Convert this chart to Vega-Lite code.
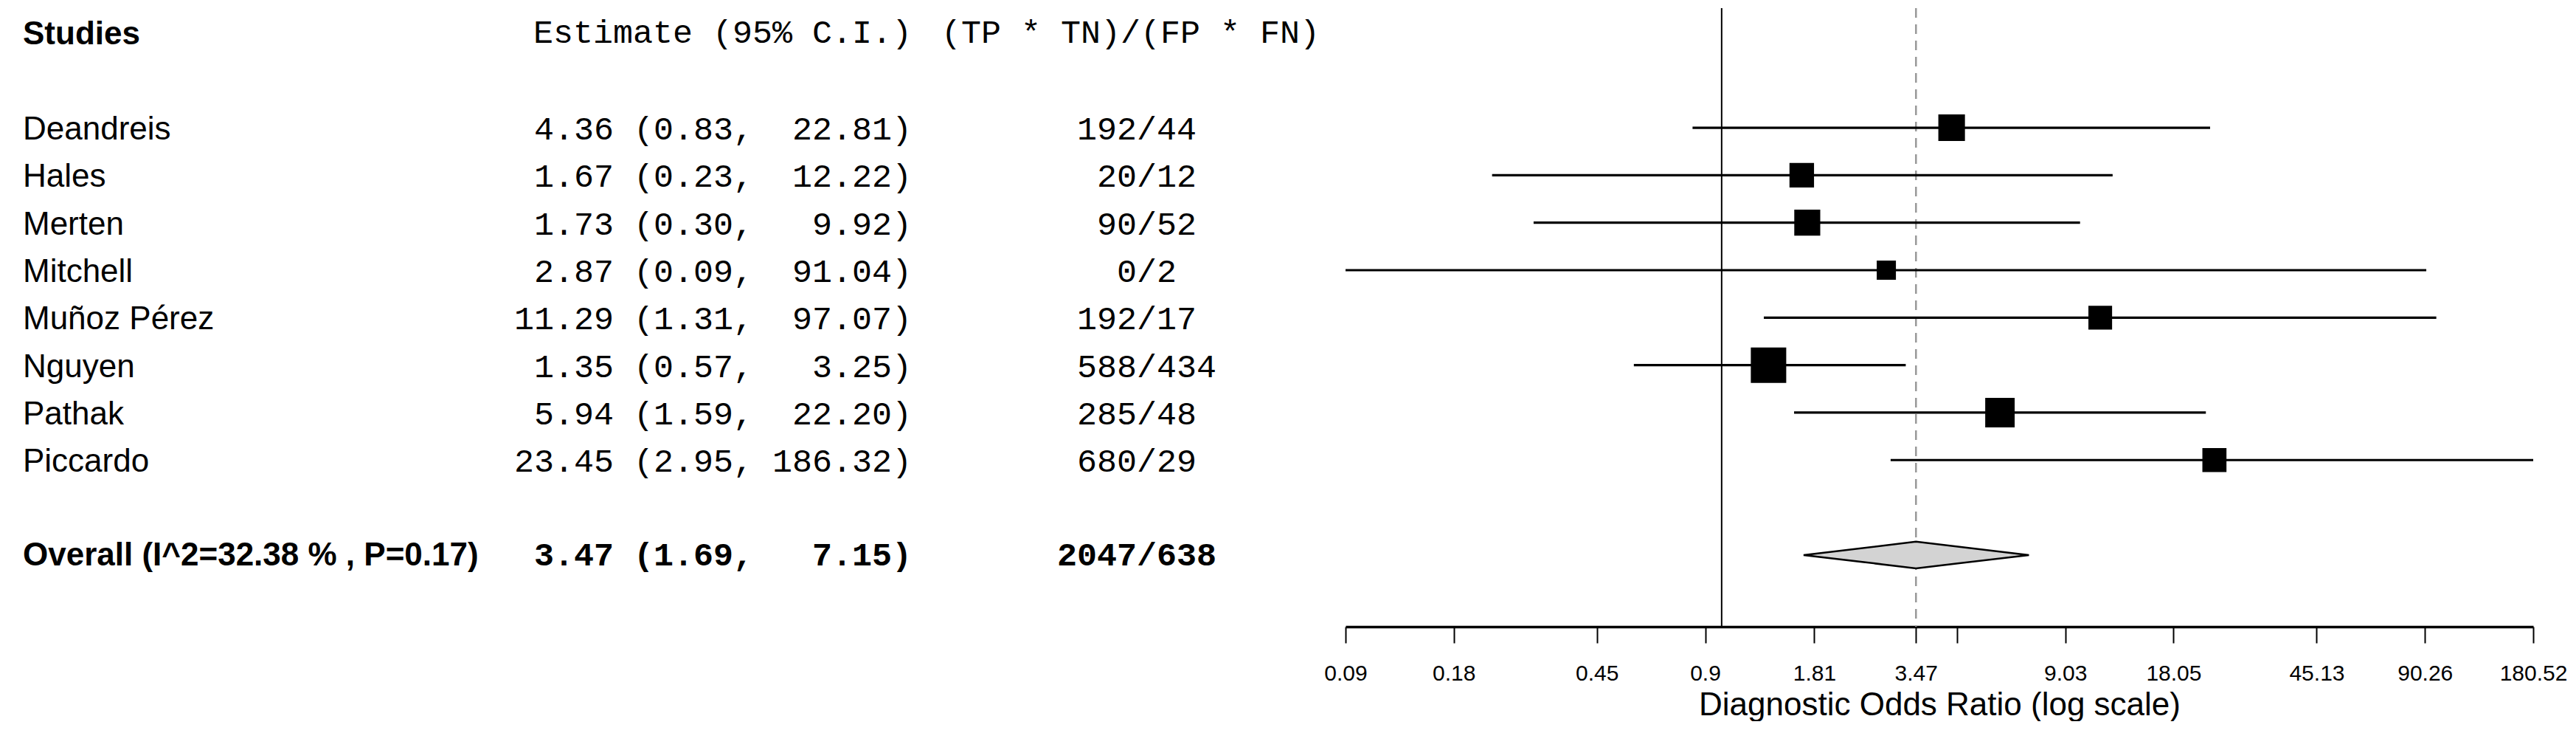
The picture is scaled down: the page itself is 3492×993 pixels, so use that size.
{
  "$schema": "https://vega.github.io/schema/vega-lite/v6.json",
  "background": "white",
  "padding": {"left": 31, "top": 9, "right": 0, "bottom": 0},
  "bounds": "flush",
  "spacing": 0,
  "config": {"view": {"stroke": null}},
  "datasets": {
    "headers": [
      {"row": 0, "studies": "Studies", "estimate": "Estimate (95% C.I.)", "ratio": "(TP * TN)/(FP * FN)"}
    ],
    "studies": [
      {"row": 2, "study": "Deandreis", "est": 4.36, "lo": 0.83, "hi": 22.81, "tp_tn": 192, "fp_fn": 44, "weight": 1.400},
      {"row": 3, "study": "Hales", "est": 1.67, "lo": 0.23, "hi": 12.22, "tp_tn": 20, "fp_fn": 12, "weight": 0.974},
      {"row": 4, "study": "Merten", "est": 1.73, "lo": 0.30, "hi": 9.92, "tp_tn": 90, "fp_fn": 52, "weight": 1.256},
      {"row": 5, "study": "Mitchell", "est": 2.87, "lo": 0.09, "hi": 91.04, "tp_tn": 0, "fp_fn": 2, "weight": 0.321},
      {"row": 6, "study": "Muñoz Pérez", "est": 11.29, "lo": 1.31, "hi": 97.07, "tp_tn": 192, "fp_fn": 17, "weight": 0.829},
      {"row": 7, "study": "Nguyen", "est": 1.35, "lo": 0.57, "hi": 3.25, "tp_tn": 588, "fp_fn": 434, "weight": 5.071},
      {"row": 8, "study": "Pathak", "est": 5.94, "lo": 1.59, "hi": 22.20, "tp_tn": 285, "fp_fn": 48, "weight": 2.211},
      {"row": 9, "study": "Piccardo", "est": 23.45, "lo": 2.95, "hi": 186.32, "tp_tn": 680, "fp_fn": 29, "weight": 0.894}
    ],
    "pooled": [
      {"row": 11, "label": "Overall (I^2=32.38 % , P=0.17)", "est": 3.47, "lo": 1.69, "hi": 7.15, "tp_tn": 2047, "fp_fn": 638}
    ],
    "diamond": [
      {"x": 1.69, "top": 11, "bottom": 11},
      {"x": 3.47, "top": 10.72, "bottom": 11.28},
      {"x": 7.15, "top": 11, "bottom": 11}
    ]
  },
  "hconcat": [
    {
      "width": 990,
      "height": 838,
      "layer": [
        {
          "data": {"name": "headers"},
          "mark": {"type": "text", "align": "left", "baseline": "alphabetic", "dy": 16, "font": "Liberation Sans", "fontSize": 44, "fontWeight": "bold", "color": "black"},
          "encoding": {
            "x": {"value": 0},
            "y": {"field": "row", "type": "quantitative", "scale": {"domain": [-0.52, 12.51], "reverse": true, "nice": false, "zero": false}, "axis": null},
            "text": {"field": "studies"}
          }
        },
        {
          "data": {"name": "studies"},
          "mark": {"type": "text", "align": "left", "baseline": "alphabetic", "dy": 16, "font": "Liberation Sans", "fontSize": 44, "color": "black"},
          "encoding": {
            "x": {"value": 0},
            "y": {"field": "row", "type": "quantitative", "scale": {"domain": [-0.52, 12.51], "reverse": true, "nice": false, "zero": false}, "axis": null},
            "text": {"field": "study"}
          }
        },
        {
          "data": {"name": "pooled"},
          "mark": {"type": "text", "align": "left", "baseline": "alphabetic", "dy": 14, "font": "Liberation Sans", "fontSize": 44, "fontWeight": "bold", "color": "black"},
          "encoding": {
            "x": {"value": 0},
            "y": {"field": "row", "type": "quantitative", "scale": {"domain": [-0.52, 12.51], "reverse": true, "nice": false, "zero": false}, "axis": null},
            "text": {"field": "label"}
          }
        },
        {
          "data": {"name": "studies"},
          "mark": {"type": "text", "align": "right", "baseline": "alphabetic", "dy": 16, "font": "Liberation Mono", "fontSize": 45, "color": "black", "text": {"expr": "format(datum.est, '.2f') + ' (' + format(datum.lo, '.2f') + ','"}},
          "encoding": {
            "x": {"value": "width"},
            "y": {"field": "row", "type": "quantitative", "scale": {"domain": [-0.52, 12.51], "reverse": true, "nice": false, "zero": false}, "axis": null}
          }
        },
        {
          "data": {"name": "pooled"},
          "mark": {"type": "text", "align": "right", "baseline": "alphabetic", "dy": 14, "font": "Liberation Mono", "fontSize": 45, "fontWeight": "bold", "color": "black", "text": {"expr": "format(datum.est, '.2f') + ' (' + format(datum.lo, '.2f') + ','"}},
          "encoding": {
            "x": {"value": "width"},
            "y": {"field": "row", "type": "quantitative", "scale": {"domain": [-0.52, 12.51], "reverse": true, "nice": false, "zero": false}, "axis": null}
          }
        }
      ]
    },
    {
      "width": 215,
      "height": 838,
      "layer": [
        {
          "data": {"name": "headers"},
          "mark": {"type": "text", "align": "right", "baseline": "alphabetic", "dy": 14, "font": "Liberation Mono", "fontSize": 45, "color": "black"},
          "encoding": {
            "x": {"value": "width"},
            "y": {"field": "row", "type": "quantitative", "scale": {"domain": [-0.52, 12.51], "reverse": true, "nice": false, "zero": false}, "axis": null},
            "text": {"field": "estimate"}
          }
        },
        {
          "data": {"name": "studies"},
          "mark": {"type": "text", "align": "right", "baseline": "alphabetic", "dy": 16, "font": "Liberation Mono", "fontSize": 45, "color": "black", "text": {"expr": "format(datum.hi, '.2f') + ')'"}},
          "encoding": {
            "x": {"value": "width"},
            "y": {"field": "row", "type": "quantitative", "scale": {"domain": [-0.52, 12.51], "reverse": true, "nice": false, "zero": false}, "axis": null}
          }
        },
        {
          "data": {"name": "pooled"},
          "mark": {"type": "text", "align": "right", "baseline": "alphabetic", "dy": 14, "font": "Liberation Mono", "fontSize": 45, "fontWeight": "bold", "color": "black", "text": {"expr": "format(datum.hi, '.2f') + ')'"}},
          "encoding": {
            "x": {"value": "width"},
            "y": {"field": "row", "type": "quantitative", "scale": {"domain": [-0.52, 12.51], "reverse": true, "nice": false, "zero": false}, "axis": null}
          }
        }
      ]
    },
    {
      "width": 40,
      "height": 838,
      "data": {"name": "headers"},
      "mark": {"type": "text", "align": "left", "baseline": "alphabetic", "dy": 14, "font": "Liberation Mono", "fontSize": 45, "color": "black"},
      "encoding": {
        "x": {"value": "width"},
        "y": {"field": "row", "type": "quantitative", "scale": {"domain": [-0.52, 12.51], "reverse": true, "nice": false, "zero": false}, "axis": null},
        "text": {"field": "ratio"}
      }
    },
    {
      "width": 265,
      "height": 838,
      "layer": [
        {
          "data": {"name": "studies"},
          "mark": {"type": "text", "align": "right", "baseline": "alphabetic", "dy": 16, "font": "Liberation Mono", "fontSize": 45, "color": "black"},
          "encoding": {
            "x": {"value": "width"},
            "y": {"field": "row", "type": "quantitative", "scale": {"domain": [-0.52, 12.51], "reverse": true, "nice": false, "zero": false}, "axis": null},
            "text": {"field": "tp_tn", "type": "quantitative", "format": "d"}
          }
        },
        {
          "data": {"name": "pooled"},
          "mark": {"type": "text", "align": "right", "baseline": "alphabetic", "dy": 14, "font": "Liberation Mono", "fontSize": 45, "fontWeight": "bold", "color": "black"},
          "encoding": {
            "x": {"value": "width"},
            "y": {"field": "row", "type": "quantitative", "scale": {"domain": [-0.52, 12.51], "reverse": true, "nice": false, "zero": false}, "axis": null},
            "text": {"field": "tp_tn", "type": "quantitative", "format": "d"}
          }
        }
      ]
    },
    {
      "width": 283,
      "height": 838,
      "layer": [
        {
          "data": {"name": "studies"},
          "mark": {"type": "text", "align": "left", "baseline": "alphabetic", "dy": 16, "font": "Liberation Mono", "fontSize": 45, "color": "black", "text": {"expr": "'/' + datum.fp_fn"}},
          "encoding": {
            "x": {"value": 0},
            "y": {"field": "row", "type": "quantitative", "scale": {"domain": [-0.52, 12.51], "reverse": true, "nice": false, "zero": false}, "axis": null}
          }
        },
        {
          "data": {"name": "pooled"},
          "mark": {"type": "text", "align": "left", "baseline": "alphabetic", "dy": 14, "font": "Liberation Mono", "fontSize": 45, "fontWeight": "bold", "color": "black", "text": {"expr": "'/' + datum.fp_fn"}},
          "encoding": {
            "x": {"value": 0},
            "y": {"field": "row", "type": "quantitative", "scale": {"domain": [-0.52, 12.51], "reverse": true, "nice": false, "zero": false}, "axis": null}
          }
        }
      ]
    },
    {
      "width": 1610,
      "height": 838,
      "resolve": {"scale": {"size": "independent"}},
      "encoding": {
        "y": {"field": "row", "type": "quantitative", "scale": {"domain": [-0.52, 12.51], "reverse": true, "nice": false, "zero": false}, "axis": null}
      },
      "layer": [
        {
          "data": {"name": "pooled"},
          "mark": {"type": "rule", "color": "#999999", "strokeWidth": 2.5, "strokeDash": [13, 9]},
          "encoding": {
            "y": null,
            "x": {
              "field": "est", "type": "quantitative",
              "scale": {"type": "log", "domain": [0.09, 180.52], "nice": false, "zero": false},
              "axis": {
                "values": [0.09, 0.18, 0.45, 0.9, 1.81, 3.47, 4.51, 9.03, 18.05, 45.13, 90.26, 180.52],
                "format": "~r",
                "labelOverlap": "greedy",
                "labelFlush": false,
                "labelBound": false,
                "labelFont": "Liberation Sans",
                "labelFontSize": 30,
                "labelColor": "black",
                "labelPadding": 26,
                "tickColor": "black",
                "tickSize": 22,
                "tickWidth": 2,
                "domainColor": "black",
                "domainWidth": 3.5,
                "grid": false,
                "title": "Diagnostic Odds Ratio (log scale)",
                "titleFont": "Liberation Sans",
                "titleFontSize": 44,
                "titleFontWeight": "normal",
                "titleColor": "black",
                "titlePadding": 6
              }
            }
          }
        },
        {
          "data": {"name": "pooled"},
          "mark": {"type": "rule", "color": "black", "strokeWidth": 2},
          "encoding": {
            "y": null,
            "x": {"datum": 1, "type": "quantitative"}
          }
        },
        {
          "data": {"name": "studies"},
          "mark": {"type": "rule", "color": "black", "strokeWidth": 3.2, "clip": true},
          "encoding": {
            "x": {"field": "lo", "type": "quantitative"},
            "x2": {"field": "hi"}
          }
        },
        {
          "data": {"name": "studies"},
          "mark": {"type": "square", "color": "black", "opacity": 1, "filled": true},
          "encoding": {
            "x": {"field": "est", "type": "quantitative"},
            "size": {"field": "weight", "type": "quantitative", "scale": {"type": "pow", "exponent": 0.444, "domain": [0, 5.071], "range": [0, 2304]}, "legend": null}
          }
        },
        {
          "data": {"name": "diamond"},
          "mark": {"type": "area", "color": "#d3d3d3", "opacity": 1, "stroke": "black", "strokeWidth": 2.5, "strokeJoin": "miter"},
          "encoding": {
            "x": {"field": "x", "type": "quantitative"},
            "y": {"field": "top", "type": "quantitative"},
            "y2": {"field": "bottom"}
          }
        }
      ]
    }
  ]
}
